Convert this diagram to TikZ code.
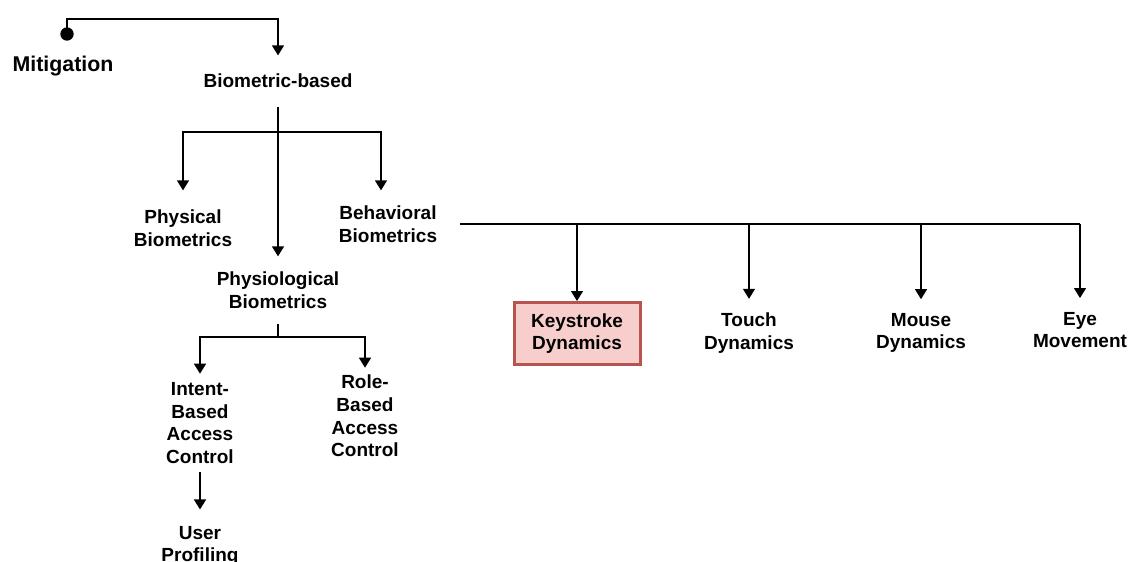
\documentclass[tikz,border=0pt]{standalone}
\usepackage{fontspec}
\setmainfont{Liberation Sans}
\usetikzlibrary{arrows.meta,positioning}
\definecolor{keyfill}{HTML}{F8CECC}
\definecolor{keyline}{HTML}{B85450}

\begin{document}
\begin{tikzpicture}[x=0.75pt,y=-0.75pt,line width=1pt,
  >={Triangle[width=9pt,length=7.5pt]},
  lbl/.style={align=center,inner xsep=0pt,font=\fontsize{14.25}{17}\selectfont\bfseries},
  keybox/.style={lbl,draw=keyline,fill=keyfill,line width=2.25pt,
    minimum width=94.5pt,minimum height=46.5pt},
  dot/.style={circle,fill,inner sep=0pt,minimum size=10pt}]
  \useasboundingbox (0,0) rectangle (1128,561);

  \node[lbl,font=\fontsize{16}{19}\selectfont\bfseries] (mit) at (63,66) {Mitigation};
  \node[dot]                          (mdot)   at (67,34) {};
  \coordinate                         (mtop)   at (67,19);
  \node[lbl,inner ysep=13.5pt]        (bio)    at (278,81) {Biometric-based};
  \coordinate                         (bj)     at (278,132);
  \node[lbl,inner ysep=14pt]          (phys)   at (183,228) {Physical\\Biometrics};
  \node[lbl,inner ysep=11pt,inner xsep=17pt] (behav) at (388,224) {Behavioral\\Biometrics};
  \node[lbl,inner ysep=11pt]          (physio) at (278,290) {Physiological\\Biometrics};
  \coordinate                         (pj)     at (278,337);
  \node[keybox]                       (key)    at (577,333.5) {Keystroke\\Dynamics};
  \node[lbl,inner ysep=10pt]          (touch)  at (749,333) {Touch\\Dynamics};
  \node[lbl,inner ysep=10pt]          (mouse)  at (921,333) {Mouse\\Dynamics};
  \node[lbl,inner ysep=10pt]          (eye)    at (1080,330) {Eye\\Movement};
  \node[lbl,inner ysep=6pt]           (intent) at (200,423) {Intent-\\Based\\Access\\Control};
  \node[lbl,inner ysep=5pt]           (role)   at (365,416) {Role-\\Based\\Access\\Control};
  \node[lbl,inner ysep=12pt]          (user)   at (200,546) {User\\Profiling};

  \draw[->] (mdot.center) -- (mtop) -| (bio);
  \draw[->] (bio) -- (physio);
  \draw[->] (bj) -| (phys);
  \draw[->] (bj) -| ([xshift=-5.25pt]behav.north);
  \draw (physio) -- (pj);
  \draw[->] (pj) -| (intent);
  \draw[->] (pj) -| (role);
  \draw[->] (intent) -- (user);
  \draw[line width=1.4pt] (behav.east) -- (behav.east -| eye.north);
  \foreach \n in {key,touch,mouse,eye}
    \draw[->] (behav.east -| \n.north) -- (\n.north);
\end{tikzpicture}
\end{document}
